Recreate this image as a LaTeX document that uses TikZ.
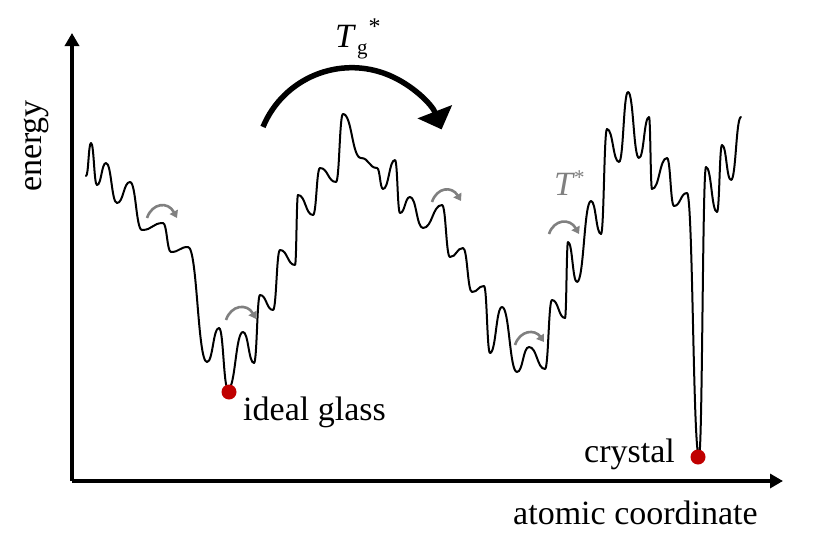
\documentclass[tikz,border=0pt]{standalone}
\usepackage{fontspec}
\setmainfont{Liberation Serif}
\usetikzlibrary{arrows.meta}
\definecolor{dotred}{RGB}{192,0,0}
\definecolor{hopgray}{RGB}{128,128,128}
\tikzset{
  axis/.style={line width=3.4pt,-{Triangle[length=13pt,width=14pt]}},
  landscape/.style={line width=2pt,line join=round,line cap=round},
  bigarrow/.style={line width=5.5pt,-{Triangle[length=19pt,width=36pt]}},
  hop/.style={draw=hopgray,line width=2.6pt,-{Triangle[length=7pt,width=9pt]}},
  mindot/.style={circle,fill=dotred,minimum size=15pt,inner sep=0pt},
  lbl/.style={font=\fontsize{34}{39}\selectfont,inner sep=0pt},
}
\begin{document}
\begin{tikzpicture}[x=1pt,y=-1pt]
\useasboundingbox (0,0) rectangle (830,554);
% axes
\coordinate (O) at (72,481);
\coordinate (ytop) at (72,33);
\coordinate (xend) at (783,481);
\draw[axis] (O) -- (ytop);
\draw[axis] (O) -- (xend);
% energy landscape
\draw[landscape] (86,176)
  \foreach \x/\y [remember=\x as \px (initially 86), remember=\y as \py (initially 176)] in
  {91/143, 97/185, 106/163, 117/203, 130/182, 142/230, 163/223, 171/252, 188/247,
   207/362, 219/328, 228/389, 243/332, 254/363, 260/295, 273/310, 280/250, 295/265,
   298/195, 313/215, 320/168, 336/182, 343/114, 361/158, 377/168, 383/189, 395/160,
   400/213, 410/197, 423/228, 442/205, 450/257, 463/248, 472/292, 484/286, 490/353,
   502/307, 517/372, 529/347, 545/369, 552/300, 565/318, 568/242, 577/282, 591/201,
   601/234, 607/129, 619/162, 628/92, 639/158, 649/117, 652/189, 667/158, 674/206,
   687/193, 699/456, 706/167, 717/212, 722/145, 731/180, 741/117}
  { .. controls ({\px+0.5*(\x-\px)},\py) and ({\x-0.5*(\x-\px)},\y) .. (\x,\y) };
% minima
\node[mindot] (glassdot) at (229,392) {};
\node[mindot] (crystaldot) at (698,457) {};
% big arrow
\coordinate (arcc) at (351.8,163.9);
\draw[bigarrow] (arcc) ++(-157.4:96.2) arc[start angle=-157.4,end angle=-21,radius=96.2];
% small hop arrows
\draw[hop] (147,218) .. controls (152,203) and (168,201) .. (177,218);
\draw[hop] (226,320) .. controls (231,305) and (247,303) .. (256,319);
\draw[hop] (432,202) .. controls (437,187) and (452,186) .. (461,201);
\draw[hop] (515,345) .. controls (520,330) and (535,329) .. (544,342);
\draw[hop] (549,234) .. controls (554,219) and (570,218) .. (579,234);
% labels
\node[lbl,rotate=90] (energy) at (36,146) {energy};
\node[lbl,anchor=base west] (glass) at (243,420) {ideal glass};
\node[lbl,anchor=base west] (crystal) at (584,462) {crystal};
\node[lbl,anchor=base west] (xlabel) at (513,524) {atomic coordinate};
\node[lbl,anchor=base west] (Tg) at (335,47) {\textit{T}\kern1pt\raisebox{-7pt}{\fontsize{21}{21}\selectfont g}\kern1pt\raisebox{13pt}{\fontsize{24}{24}\selectfont *}};
\node[lbl,anchor=base west,text=hopgray] (Tstar) at (554,195) {\textit{T}\kern-1pt\raisebox{11pt}{\fontsize{21}{21}\selectfont *}};
\end{tikzpicture}
\end{document}
